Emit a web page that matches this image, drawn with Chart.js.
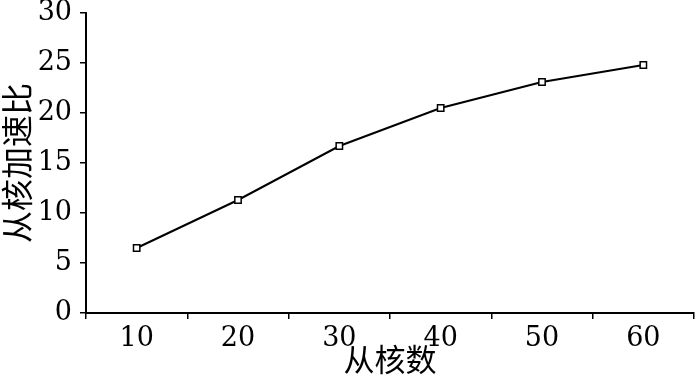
<!DOCTYPE html>
<html>
<head>
<meta charset="utf-8">
<script src="https://cdn.jsdelivr.net/npm/chart.js@4"></script>
<style>
    html, body { margin: 0; padding: 0; background: #fff; overflow: hidden; }
    canvas { display: block; }
</style>
</head>
<body>
<canvas id="speedupChart" width="700" height="383"></canvas>
<script>
// 数据：从核数与加速比
const coreCounts = ['10', '20', '30', '40', '50', '60'];
const speedup = [6.5, 11.3, 16.7, 20.5, 23.1, 24.8];
const yTicks = [0, 5, 10, 15, 20, 25, 30];

const fontFamily = '"DejaVu Serif", "Noto Sans CJK SC", serif';

const ctx = document.getElementById('speedupChart').getContext('2d');
new Chart(ctx, {
    type: 'line',
    data: {
        labels: coreCounts,
        datasets: [{
            data: speedup,
            borderColor: '#000',
            borderWidth: 2,
            pointStyle: 'rect',
            pointRadius: 4.5,
            pointBackgroundColor: '#fff',
            pointBorderColor: '#000',
            pointBorderWidth: 1.5,
            tension: 0,
            fill: false
        }]
    },
    options: {
        responsive: false,
        animation: false,
        layout: { padding: { top: 13, right: 0, left: 0, bottom: 0 } },
        plugins: {
            legend: { display: false },
            tooltip: { enabled: false }
        },
        scales: {
            x: {
                offset: true,
                grid: {
                    offset: true,
                    drawOnChartArea: false,
                    drawTicks: true,
                    tickLength: 6,
                    color: '#000',
                    lineWidth: 1.5
                },
                border: { color: '#000', width: 2 },
                ticks: {
                    color: '#000',
                    padding: 4,
                    font: { family: fontFamily, size: 27 }
                },
                title: {
                    display: true,
                    text: '从核数',
                    color: '#000',
                    padding: { top: 0, bottom: 1 },
                    font: { family: fontFamily, size: 31 }
                },
                afterFit: scale => {
                    scale.height = 70;
                    scale.paddingLeft = 0;
                    scale.paddingRight = 0;
                }
            },
            y: {
                min: 0,
                max: 30,
                afterBuildTicks: scale => {
                    scale.ticks = yTicks.map(v => ({ value: v }));
                },
                grid: {
                    drawOnChartArea: false,
                    drawTicks: true,
                    tickLength: 6,
                    color: '#000',
                    lineWidth: 1.5
                },
                border: { color: '#000', width: 2 },
                ticks: {
                    color: '#000',
                    padding: 8,
                    font: { family: fontFamily, size: 27 }
                },
                title: {
                    display: true,
                    text: '从核加速比',
                    color: '#000',
                    padding: { top: 1, bottom: 0 },
                    font: { family: fontFamily, size: 32 }
                },
                afterFit: scale => {
                    scale.width = 86;
                    scale.paddingTop = 0;
                    scale.paddingBottom = 0;
                }
            }
        }
    }
});
</script>
</body>
</html>
